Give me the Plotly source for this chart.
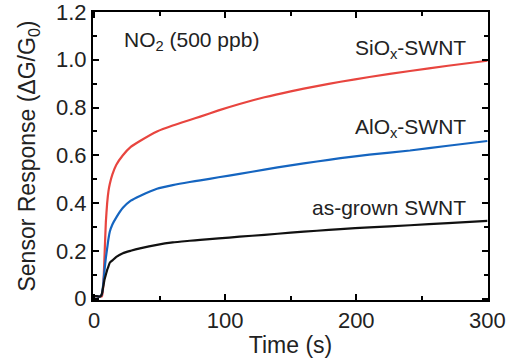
import plotly.graph_objects as go

time_s = [0, 2, 4, 5, 6, 7, 8, 9, 10, 11, 12, 14, 17, 22, 28, 35, 48, 60, 73, 81,
          95, 111, 130, 150, 170, 188, 210, 241, 270, 300]
siox = [0.01, 0.01, 0.008, 0.008, 0.01, 0.05, 0.18, 0.32, 0.40, 0.45, 0.48, 0.52, 0.56,
        0.60, 0.635, 0.66, 0.70, 0.725, 0.748, 0.762, 0.788, 0.815, 0.843, 0.868, 0.89,
        0.908, 0.928, 0.953, 0.975, 0.996]
alox = [0.01, 0.01, 0.008, 0.01, 0.02, 0.06, 0.12, 0.17, 0.21, 0.25, 0.28, 0.31, 0.34,
        0.38, 0.41, 0.43, 0.46, 0.475, 0.488, 0.495, 0.508, 0.522, 0.54, 0.558, 0.574,
        0.588, 0.603, 0.62, 0.64, 0.66]
asgrown = [0.01, 0.01, 0.008, 0.01, 0.02, 0.05, 0.08, 0.10, 0.12, 0.135, 0.15, 0.16,
           0.175, 0.19, 0.20, 0.21, 0.225, 0.235, 0.242, 0.246, 0.252, 0.259, 0.267,
           0.276, 0.284, 0.291, 0.298, 0.307, 0.316, 0.325]

x_ticks = [0, 100, 200, 300]
x_tick_text = ["0", "100", "200", "300"]
y_ticks = [0, 0.2, 0.4, 0.6, 0.8, 1.0, 1.2]
y_tick_text = ["0", "0.2", "0.4", "0.6", "0.8", "1.0", "1.2"]

series = [
    ("SiO<sub>x</sub>-SWNT", siox, "#e8453f"),
    ("AlO<sub>x</sub>-SWNT", alox, "#1565c0"),
    ("as-grown SWNT", asgrown, "#111111"),
]

fig = go.Figure()
for name, vals, col in series:
    fig.add_trace(go.Scatter(x=time_s, y=vals, mode="lines", name=name,
                             line=dict(color=col, width=2.2, shape="spline", smoothing=0.5)))

font_fam = "Liberation Sans, Arial, sans-serif"
txt_col = "#222222"

labels = [
    ("NO<sub>2</sub> (500 ppb)", 21, 1.079, "left"),
    ("SiO<sub>x</sub>-SWNT", 285, 1.046, "right"),
    ("AlO<sub>x</sub>-SWNT", 285, 0.713, "right"),
    ("as-grown SWNT", 285, 0.383, "right"),
]
for text, xv, yv, anc in labels:
    fig.add_annotation(x=xv, y=yv, text=text, showarrow=False, xanchor=anc,
                       yanchor="middle", font=dict(family=font_fam, size=21, color=txt_col))

axis_common = dict(
    showgrid=False, zeroline=False, showline=True, linecolor="black", linewidth=2,
    mirror="allticks", ticks="inside", ticklen=6, tickwidth=2, tickcolor="black",
    tickfont=dict(family=font_fam, size=22, color=txt_col), automargin=False,
    ticklabeloverflow="allow",
)

fig.update_xaxes(
    range=[-0.8, 300.5], tickvals=x_ticks, ticktext=x_tick_text,
    minor=dict(ticks="inside", dtick=50, tick0=0, ticklen=4, tickwidth=1.5, tickcolor="black"),
    title=dict(text="Time (s)", font=dict(family=font_fam, size=23, color=txt_col), standoff=4),
    **axis_common,
)
fig.update_yaxes(
    range=[-0.006, 1.2001], tickvals=y_ticks, ticktext=y_tick_text,
    minor=dict(ticks="inside", dtick=0.1, tick0=0, ticklen=4, tickwidth=1.5, tickcolor="black"),
    title=dict(text="Sensor Response (ΔG/G<sub>0</sub>)",
               font=dict(family=font_fam, size=23, color=txt_col), standoff=14),
    **axis_common,
)

fig.update_layout(
    width=508, height=363,
    margin=dict(l=93, r=20, t=12, b=63),
    paper_bgcolor="white", plot_bgcolor="white",
    showlegend=False,
)

fig.write_html("out.html", config={"displayModeBar": False},
               post_script="document.body.style.margin='0';")
